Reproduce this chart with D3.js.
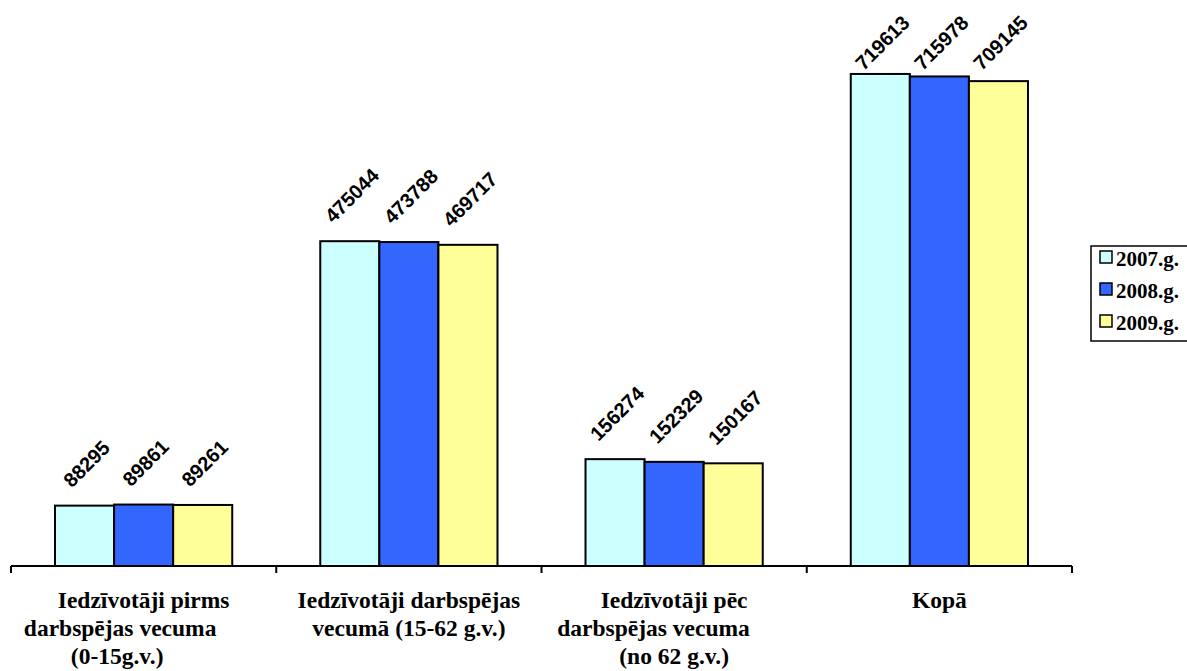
<!DOCTYPE html>
<html><head><meta charset="utf-8">
<script src="https://cdn.jsdelivr.net/npm/d3@7"></script>
<style>
html,body{margin:0;padding:0;background:#fff;}
svg{display:block;}
</style></head>
<body>
<svg id="chart" width="1187" height="671"></svg>
<script>
const SERIF = '"Liberation Serif","Times New Roman",serif';
const SANS = '"Liberation Sans",Arial,sans-serif';
const categories = ["c1","c2","c3","c4"];
const categoryLabels = [
  ["Iedzīvotāji pirms", "darbspējas vecuma        ", "(0-15g.v.)         "],
  ["Iedzīvotāji darbspējas", "vecumā (15-62 g.v.)"],
  ["Iedzīvotāji pēc", "darbspējas vecuma       ", "(no 62 g.v.)"],
  ["Kopā"]
];
const seriesNames = ["2007.g.", "2008.g.", "2009.g."];
const values2007 = [88295, 475044, 156274, 719613];
const values2008 = [89861, 473788, 152329, 715978];
const values2009 = [89261, 469717, 150167, 709145];
const seriesColors = ["#CCFFFF", "#3366FF", "#FFFF99"];
const seriesValues = [values2007, values2008, values2009];

const svg = d3.select("#chart");
const x0 = d3.scaleBand().domain(categories).range([11, 1072]).padding(0);
const x1 = d3.scaleBand().domain(seriesNames).range([0, x0.bandwidth()]).paddingInner(0).paddingOuter(0.745);
const y = d3.scaleLinear().domain([0, 800000]).range([566, 19]);

const data = [];
categories.forEach((c, ci) => {
  seriesNames.forEach((s, si) => {
    data.push({c, s, si, v: seriesValues[si][ci]});
  });
});

svg.append("g").selectAll("rect").data(data).join("rect")
  .attr("x", d => x0(d.c) + x1(d.s))
  .attr("y", d => y(d.v))
  .attr("width", x1.bandwidth())
  .attr("height", d => y(0) - y(d.v))
  .attr("fill", d => seriesColors[d.si])
  .attr("stroke", "#000")
  .attr("stroke-width", 2);

const ang = 45;
const lbl = svg.append("g").selectAll("text").data(data).join("text")
  .style("font-family", SANS)
  .style("font-weight", "bold")
  .style("font-size", "20px")
  .attr("text-anchor", "middle")
  .attr("dominant-baseline", "central")
  .text(d => d.v);
lbl.each(function(d) {
  const L = this.getComputedTextLength();
  const h = 14.3;
  const a = ang * Math.PI / 180;
  const boxH = L * Math.sin(a) + h * Math.cos(a);
  const cx = x0(d.c) + x1(d.s) + x1.bandwidth() / 2 + 2;
  const cy = Math.max(y(d.v) - 17 - boxH / 2, 14 + boxH / 2);
  d3.select(this).attr("transform", `translate(${cx},${cy}) rotate(${-ang})`);
});

const ax = svg.append("g").attr("transform", `translate(0,${y(0)})`);
ax.append("line").attr("x1", 11).attr("x2", 1072).attr("stroke", "#000").attr("stroke-width", 2);
const tickXs = categories.map(c => x0(c)).concat([x0.range()[1]]);
ax.selectAll("line.tick").data(tickXs).join("line").attr("class", "tick")
  .attr("x1", d => d).attr("x2", d => d).attr("y1", 0).attr("y2", 7)
  .attr("stroke", "#000").attr("stroke-width", 2);

categories.forEach((c, ci) => {
  const t = svg.append("text")
    .style("font-family", SERIF)
    .style("font-weight", "bold")
    .style("font-size", "23.5px")
    .style("white-space", "pre")
    .attr("text-anchor", "middle")
    .attr("xml:space", "preserve");
  categoryLabels[ci].forEach((line, li) => {
    t.append("tspan")
      .attr("x", x0(c) + x0.bandwidth() / 2)
      .attr("y", 608 + li * 28)
      .text(line);
  });
});

const lg = svg.append("g").attr("transform", "translate(1091,246)");
lg.append("rect").attr("x", 0).attr("y", 0).attr("width", 100).attr("height", 95)
  .attr("fill", "#fff").attr("stroke", "#000").attr("stroke-width", 1.5);
seriesNames.forEach((s, i) => {
  lg.append("rect").attr("x", 9).attr("y", 5 + i * 32).attr("width", 12).attr("height", 12)
    .attr("fill", seriesColors[i]).attr("stroke", "#000").attr("stroke-width", 1.5);
  lg.append("text").attr("x", 25).attr("y", 20 + i * 32)
    .style("font-family", SERIF).style("font-weight", "bold").style("font-size", "21px")
    .text(s);
});
</script>
</body></html>
